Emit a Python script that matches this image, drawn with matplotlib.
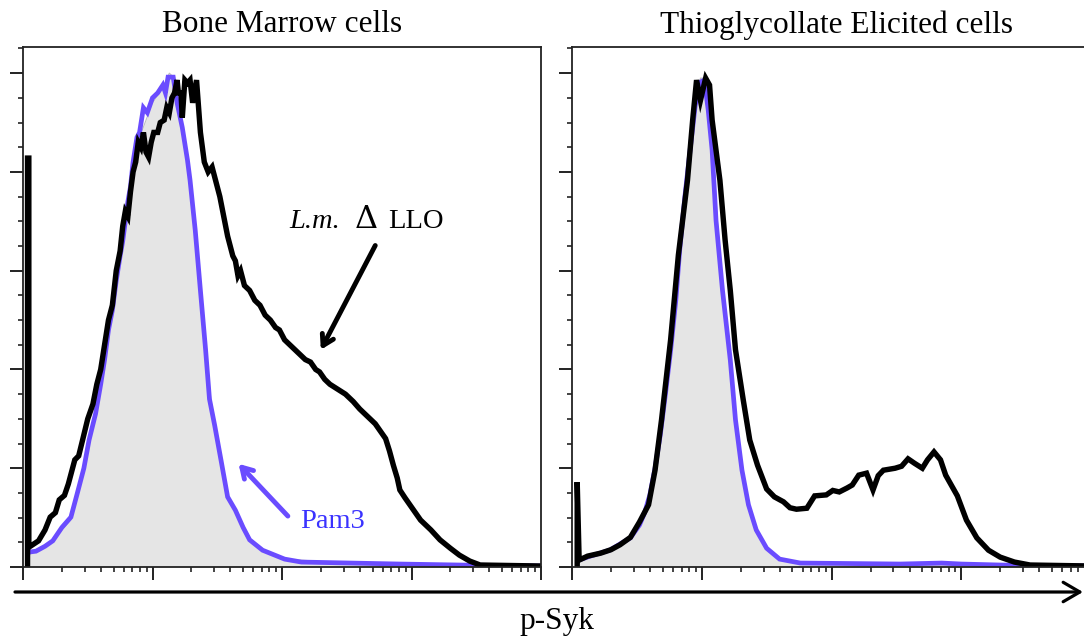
import numpy as np
import matplotlib
matplotlib.use("Agg")
import matplotlib.pyplot as plt
from matplotlib.patches import FancyArrowPatch
from matplotlib.ticker import LogLocator, MultipleLocator, NullFormatter

# p-Syk intensity, given as log10 position on the 4-decade axis, and % of max
bm_black_lx = [0.035, 0.035, 0.045, 0.045, 0.12, 0.17, 0.21, 0.25, 0.28, 0.32, 0.35, 0.40, 0.43, 0.46,
               0.50, 0.54, 0.57, 0.60, 0.63, 0.66, 0.69, 0.72, 0.75, 0.77, 0.79, 0.81, 0.83, 0.85,
               0.87, 0.89, 0.91, 0.93, 0.95, 0.97, 0.99, 1.01, 1.04, 1.06, 1.09, 1.11, 1.13, 1.15,
               1.17, 1.19, 1.20, 1.22, 1.23, 1.25, 1.27, 1.29, 1.31, 1.34, 1.37, 1.40, 1.43, 1.46,
               1.49, 1.52, 1.55, 1.58, 1.60, 1.62, 1.64, 1.66, 1.68, 1.71, 1.75, 1.79, 1.83, 1.87,
               1.91, 1.95, 1.98, 2.02, 2.06, 2.10, 2.14, 2.18, 2.22, 2.26, 2.29, 2.33, 2.37, 2.43,
               2.49, 2.55, 2.60, 2.66, 2.72, 2.76, 2.80, 2.83, 2.86, 2.89, 2.91, 2.95, 2.99, 3.03,
               3.07, 3.15, 3.22, 3.30, 3.37, 3.45, 3.53, 4.0]
bm_black_y = [0, 82.8, 82.8, 4, 5.3, 7.5, 10.1, 11, 13.6, 14.5, 16.8, 21.7, 22.5, 25.7,
              30, 33, 37, 40, 45, 50, 53, 60, 64, 69, 72, 71, 76, 80,
              82, 86, 85, 88, 84, 83, 86, 88, 88, 90, 90.5, 93, 92, 95,
              96, 98.6, 96, 96, 91, 98.6, 98, 98.6, 94, 98.6, 88, 82, 80, 81,
              78, 75, 71, 67, 65, 63, 62, 59, 60, 57, 56, 54, 53, 51,
              50, 48.5, 48, 46, 45, 44, 43, 42, 41.5, 40, 39.5, 38, 37, 36,
              35, 33.5, 32, 30.5, 29, 27.5, 26, 23.5, 20.6, 18, 15.6, 14, 12.5, 11,
              9.5, 7.5, 5.5, 3.8, 2.4, 1.2, 0.4, 0.2]

bm_pam3_lx = [0.04, 0.10, 0.17, 0.23, 0.30, 0.37, 0.42, 0.47, 0.51, 0.56, 0.60, 0.63, 0.66, 0.69,
              0.72, 0.75, 0.77, 0.79, 0.81, 0.83, 0.85, 0.88, 0.90, 0.93, 0.96, 1.00, 1.04, 1.08,
              1.10, 1.12, 1.16, 1.19, 1.23, 1.27, 1.29, 1.33, 1.37, 1.41, 1.44, 1.48, 1.53, 1.58,
              1.64, 1.70, 1.75, 1.85, 2.02, 2.15, 2.53, 2.91, 3.37, 4.0]
bm_pam3_y = [3, 3.2, 4.2, 5.3, 8, 10.1, 15, 20, 25.7, 31, 37, 42, 48, 52,
             58, 63, 66, 70, 74, 77, 82, 87, 88, 93, 92, 95, 96, 97.6,
             96, 99.2, 99.2, 94, 89, 82.4, 78.3, 68.2, 56, 44, 34, 28.7, 21.5, 14.2,
             11.5, 8, 5.5, 3.4, 1.6, 1, 0.8, 0.6, 0.4, 0.2]

bm_ctrl_lx = [0.05, 0.20, 0.37, 0.51, 0.63, 0.75, 0.83, 0.90, 1.00, 1.08, 1.13, 1.17, 1.21, 1.27,
              1.33, 1.37, 1.41, 1.45, 1.49, 1.54, 1.59, 1.65, 1.76, 1.86, 2.02, 2.50, 4.0]
bm_ctrl_y = [2.5, 4.5, 9.5, 25, 41, 62, 76, 87, 94, 97, 100, 99, 93, 83,
             69, 57, 45, 34, 28, 21, 14, 11, 5.5, 3.5, 1.6, 0.8, 0.2]

te_black_lx = [0.04, 0.04, 0.055, 0.12, 0.22, 0.30, 0.37, 0.45, 0.52, 0.59, 0.64, 0.69, 0.76, 0.82,
               0.89, 0.93, 0.96, 0.99, 1.03, 1.06, 1.08, 1.11, 1.14, 1.18, 1.22, 1.26, 1.32, 1.37,
               1.43, 1.50, 1.56, 1.63, 1.68, 1.73, 1.81, 1.87, 1.96, 2.01, 2.06, 2.12, 2.16, 2.21,
               2.27, 2.32, 2.36, 2.40, 2.49, 2.54, 2.59, 2.64, 2.70, 2.74, 2.79, 2.84, 2.88, 2.97,
               3.04, 3.12, 3.21, 3.30, 3.41, 3.53, 4.0]
te_black_y = [0, 17.2, 1.4, 2.2, 2.8, 3.5, 4.5, 6, 9.1, 12.6, 19.6, 29.8, 46, 63.2,
              78.3, 90.5, 98.6, 94.5, 99, 97.6, 90.5, 84.4, 78.3, 66.2, 56, 44, 33.8, 25.7,
              20.6, 15.8, 14.2, 13.2, 12, 11.7, 11.9, 14.4, 14.6, 15.5, 15.2, 16, 16.6, 18.6,
              19, 15.6, 18.5, 19.6, 20, 20.4, 21.9, 21, 20, 21.7, 23.3, 21.7, 18.6, 14.4,
              9.5, 5.9, 3.4, 2, 1, 0.4, 0.2]

te_pam3_lx = [0.05, 0.14, 0.29, 0.45, 0.52, 0.56, 0.60, 0.64, 0.68, 0.72, 0.76, 0.80, 0.83, 0.87,
              0.91, 0.95, 0.99, 1.02, 1.05, 1.08, 1.11, 1.16, 1.22, 1.26, 1.31, 1.36, 1.42, 1.50,
              1.60, 1.76, 2.53, 2.85, 3.0, 3.3, 4.0]
te_pam3_y = [1.4, 2.2, 3.4, 5.9, 8.5, 11, 14.6, 20, 26.7, 35, 43.9, 54, 64.2, 75,
             84.4, 93.5, 98.2, 98.6, 92.5, 84.4, 70.2, 56, 41.9, 29.8, 19.6, 12.6, 7.5, 3.8,
             1.6, 0.8, 0.6, 0.8, 0.6, 0.4, 0.2]

te_ctrl_lx = [0.05, 0.30, 0.45, 0.52, 0.60, 0.68, 0.76, 0.83, 0.91, 0.96, 0.99, 1.03, 1.06, 1.09,
              1.12, 1.17, 1.22, 1.27, 1.32, 1.37, 1.43, 1.51, 1.62, 1.80, 4.0]
te_ctrl_y = [1, 3.2, 5.5, 8, 14, 26, 44, 64, 84, 95, 99, 99, 92, 84,
             70, 55, 42, 29, 19, 12, 7, 3.5, 1.5, 0.6, 0.2]

titles = ["Bone Marrow cells", "Thioglycollate Elicited cells"]

BLACK = "#000000"
PURPLE = "#6a4cff"
BLUE_TXT = "#3a32ff"
GRAY = "#e5e5e5"

W, H = 1084, 639
fig = plt.figure(figsize=(W / 100, H / 100), dpi=100)

def px(x0, y0, x1, y1):
    # pixel box (top-left origin) -> figure fraction rect
    return [x0 / W, 1 - y1 / H, (x1 - x0) / W, (y1 - y0) / H]

ax1 = fig.add_axes(px(23, 47, 541, 567))
ax2 = fig.add_axes(px(572, 47, 1091, 567))

panels = [
    (ax1, bm_ctrl_lx, bm_ctrl_y, bm_pam3_lx, bm_pam3_y, bm_black_lx, bm_black_y),
    (ax2, te_ctrl_lx, te_ctrl_y, te_pam3_lx, te_pam3_y, te_black_lx, te_black_y),
]

for ax, clx, cy, plx, py, blx, by in panels:
    cx = np.power(10.0, clx)
    ax.fill_between(cx, 0, cy, color=GRAY, lw=0)
    ax.plot(cx, cy, color="#bdbdbd", lw=0.8)
    ax.plot(np.power(10.0, plx), py, color=PURPLE, lw=3.4, solid_joinstyle="miter")
    ax.plot(np.power(10.0, blx), by, color=BLACK, lw=3.9, solid_joinstyle="miter")

    ax.set_xscale("log")
    ax.set_xlim(1, 1e4)
    ax.set_ylim(0, 105.3)
    ax.xaxis.set_major_locator(LogLocator(base=10, numticks=10))
    ax.xaxis.set_minor_locator(LogLocator(base=10, subs=np.arange(2, 10), numticks=20))
    ax.xaxis.set_minor_formatter(NullFormatter())
    ax.yaxis.set_major_locator(MultipleLocator(20))
    ax.yaxis.set_minor_locator(MultipleLocator(5))
    ax.tick_params(which="major", direction="out", length=9.5, width=1.3, color="#111111",
                   labelbottom=False, labelleft=False)
    ax.tick_params(which="minor", direction="out", length=3.5, width=1.1, color="#111111")
    for s in ax.spines.values():
        s.set_linewidth(1.3)
        s.set_color("#222222")

fig.text(282 / W, 1 - 25 / H, titles[0], ha="center", va="center",
         family="Liberation Serif", fontsize=22.5)
fig.text(836 / W, 1 - 25 / H, titles[1], ha="center", va="center",
         family="Liberation Serif", fontsize=22.5)
fig.text(557 / W, 1 - 621 / H, "p-Syk", ha="center", va="center",
         family="Liberation Serif", fontsize=22.5)

# annotations in the left panel
ax1.annotate("", xy=(10 ** 2.29, 43.5), xytext=(10 ** 2.73, 65.6),
             arrowprops=dict(arrowstyle="->,head_length=0.75,head_width=0.45", lw=3.5, color=BLACK))
ax1.text(10 ** 2.06, 68.6, "L.m.", family="Liberation Serif", style="italic",
         fontsize=20.5, ha="left", va="baseline")
ax1.text(10 ** 2.565, 68.6, "Δ", family="DejaVu Serif", fontsize=23, ha="left", va="baseline")
ax1.text(10 ** 2.82, 68.6, "LLO", family="Liberation Serif", fontsize=20.5, ha="left", va="baseline")

ax1.annotate("", xy=(10 ** 1.65, 21.3), xytext=(10 ** 2.06, 9.9),
             arrowprops=dict(arrowstyle="->,head_length=0.75,head_width=0.45", lw=3.5, color=PURPLE))
ax1.text(10 ** 2.14, 7.9, "Pam3", family="Liberation Serif", fontsize=20.5, color=BLUE_TXT,
         ha="left", va="baseline")

# long axis arrow under both panels
arr = FancyArrowPatch((15 / W, 1 - 592 / H), (1083 / W, 1 - 592 / H), transform=fig.transFigure,
                      arrowstyle="->,head_length=0.6,head_width=0.35", lw=2.3, color=BLACK,
                      mutation_scale=20, shrinkA=0, shrinkB=0)
fig.add_artist(arr)

fig.savefig("out.png", dpi=100)
